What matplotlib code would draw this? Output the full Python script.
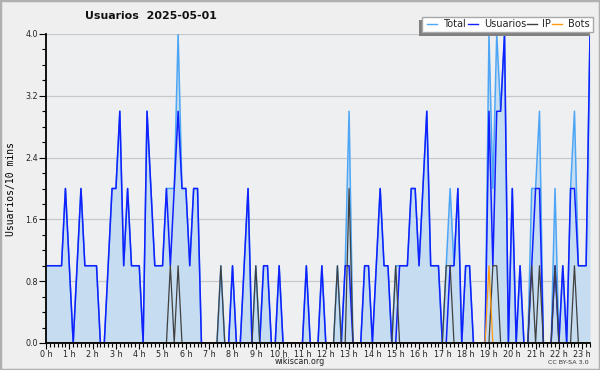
import numpy as np
import matplotlib.pyplot as plt
from matplotlib.patches import Rectangle
from matplotlib.lines import Line2D
from matplotlib.ticker import MultipleLocator, FixedLocator

TITLE = "Usuarios  2025-05-01"
YLABEL = "Usuarios/10 mins"

# one value per 10 minutes, 00:00 .. 23:20 (12 values = 2 hours per row)
usuarios = [
    1, 1, 1, 1, 1, 2, 1, 0, 1, 2, 1, 1,
    1, 1, 0, 0, 1, 2, 2, 3, 1, 2, 1, 1,
    1, 0, 3, 2, 1, 1, 1, 2, 1, 2, 3, 2,
    2, 1, 2, 2, 0, 0, 0, 0, 0, 0, 0, 0,
    1, 0, 0, 1, 2, 0, 0, 0, 1, 1, 0, 0,
    1, 0, 0, 0, 0, 0, 0, 1, 0, 0, 0, 1,
    0, 0, 0, 0, 0, 1, 1, 0, 0, 0, 1, 1,
    0, 1, 2, 1, 1, 0, 0, 1, 1, 1, 2, 2,
    1, 2, 3, 1, 1, 1, 0, 0, 1, 1, 2, 0,
    1, 1, 0, 0, 0, 0, 3, 1, 3, 3, 4, 0,
    2, 0, 1, 0, 0, 1, 2, 2, 0, 0, 0, 1,
    0, 1, 0, 2, 2, 1, 1, 1, 4,
]
ip = [
    0, 0, 0, 0, 0, 0, 0, 0, 0, 0, 0, 0,
    0, 0, 0, 0, 0, 0, 0, 0, 0, 0, 0, 0,
    0, 0, 0, 0, 0, 0, 0, 0, 1, 0, 1, 0,
    0, 0, 0, 0, 0, 0, 0, 0, 0, 1, 0, 0,
    0, 0, 0, 0, 0, 0, 1, 0, 0, 0, 0, 0,
    0, 0, 0, 0, 0, 0, 0, 0, 0, 0, 0, 0,
    0, 0, 0, 1, 0, 0, 2, 0, 0, 0, 0, 0,
    0, 0, 0, 0, 0, 0, 1, 0, 0, 0, 0, 0,
    0, 0, 0, 0, 0, 0, 0, 1, 1, 0, 0, 0,
    0, 0, 0, 0, 0, 0, 0, 1, 1, 0, 0, 0,
    0, 0, 0, 0, 0, 1, 0, 1, 0, 0, 0, 1,
    0, 0, 0, 0, 1, 0, 0, 0, 0,
]
bots = [
    0, 0, 0, 0, 0, 0, 0, 0, 0, 0, 0, 0,
    0, 0, 0, 0, 0, 0, 0, 0, 0, 0, 0, 0,
    0, 0, 0, 0, 0, 0, 0, 0, 0, 0, 0, 0,
    0, 0, 0, 0, 0, 0, 0, 0, 0, 0, 0, 0,
    0, 0, 0, 0, 0, 0, 0, 0, 0, 0, 0, 0,
    0, 0, 0, 0, 0, 0, 0, 0, 0, 0, 0, 0,
    0, 0, 0, 0, 0, 0, 0, 0, 0, 0, 0, 0,
    0, 0, 0, 0, 0, 0, 0, 0, 0, 0, 0, 0,
    0, 0, 0, 0, 0, 0, 0, 0, 0, 0, 0, 0,
    0, 0, 0, 0, 0, 0, 1, 0, 0, 0, 0, 0,
    0, 0, 0, 0, 0, 0, 0, 0, 0, 0, 0, 0,
    0, 0, 0, 0, 0, 0, 0, 0, 0,
]
total = [
    1, 1, 1, 1, 1, 2, 1, 0, 1, 2, 1, 1,
    1, 1, 0, 0, 1, 2, 2, 3, 1, 2, 1, 1,
    1, 0, 3, 2, 1, 1, 1, 2, 2, 2, 4, 2,
    2, 1, 2, 2, 0, 0, 0, 0, 0, 1, 0, 0,
    1, 0, 0, 1, 2, 0, 1, 0, 1, 1, 0, 0,
    1, 0, 0, 0, 0, 0, 0, 1, 0, 0, 0, 1,
    0, 0, 0, 1, 0, 1, 3, 0, 0, 0, 1, 1,
    0, 1, 2, 1, 1, 0, 1, 1, 1, 1, 2, 2,
    1, 2, 3, 1, 1, 1, 0, 1, 2, 1, 2, 0,
    1, 1, 0, 0, 0, 0, 4, 2, 4, 3, 4, 0,
    2, 0, 1, 0, 0, 2, 2, 3, 0, 0, 0, 2,
    0, 1, 0, 2, 3, 1, 1, 1, 4,
]
hours = list(range(24))
hour_labels = [f"{h} h" for h in hours]

t = np.arange(len(total)) / 6.0   # hours

C_FILL = "#c6ddf1"
C_TOTAL = "#4da6f5"
C_USR = "#1020ff"
C_IP = "#404040"
C_BOTS = "#ff9a10"

fig = plt.figure(figsize=(6, 3.7), dpi=100)
fig.patch.set_facecolor("#efefef")
fig.patches.append(Rectangle((0, 0), 1, 1, transform=fig.transFigure, fill=False,
                             edgecolor="#b0b0b0", lw=2.5))

ax = fig.add_axes([46 / 600, 1 - 343 / 370, 544 / 600, 309 / 370])
ax.set_facecolor("#eeeff1")

ax.fill_between(t, total, 0, color=C_FILL, lw=0, zorder=1)
ax.plot(t, total, color=C_TOTAL, lw=1.1, zorder=2)
ax.plot(t, usuarios, color=C_USR, lw=1.1, zorder=3)
ax.plot(t, ip, color=C_IP, lw=0.9, zorder=4)
ax.plot(t, bots, color=C_BOTS, lw=0.9, zorder=5)

ax.set_xlim(0, t[-1])
ax.set_ylim(0, 4.0)
ax.yaxis.set_major_locator(MultipleLocator(0.8))
ax.yaxis.set_minor_locator(MultipleLocator(0.2))
ax.set_yticklabels([f"{v:.1f}" for v in ax.get_yticks()])
ax.xaxis.set_major_locator(FixedLocator(hours))
ax.set_xticklabels(hour_labels)
ax.xaxis.set_minor_locator(MultipleLocator(1 / 6))
ax.grid(axis="y", color="#c8c8c8", lw=0.9, zorder=0)
ax.set_axisbelow(True)

for s in ["top", "right"]:
    ax.spines[s].set_visible(False)
for s in ["left", "bottom"]:
    ax.spines[s].set_linewidth(1.3)
    ax.spines[s].set_zorder(6)

ax.tick_params(which="major", length=5, width=0.8, labelsize=5.8, pad=1,
               labelcolor="#222222")
ax.tick_params(which="minor", length=3, width=0.8)
ax.tick_params(axis="x", which="major", length=4)

ax.set_ylabel(YLABEL, family="DejaVu Sans Mono", fontsize=7)
ax.yaxis.set_label_coords(-0.055, 0.5)

fig.text(85 / 600, 1 - 16 / 370, TITLE, fontsize=7.9, fontweight="bold",
         ha="left", va="center", color="#111111")
fig.text(300 / 600, 1 - 362 / 370, "wikiscan.org", fontsize=5.8, ha="center",
         va="center", color="#222222")
fig.text(589 / 600, 1 - 362 / 370, "CC BY-SA 3.0", fontsize=4.6, ha="right",
         va="center", color="#333333")

# legend box with shadow (drawn by hand)
def fx(px):
    return px / 600


def fy(py):
    return 1 - py / 370


fig.patches.append(Rectangle((fx(419), fy(36)), fx(590) - fx(419), fy(20) - fy(36),
                             transform=fig.transFigure, facecolor="#808080",
                             edgecolor="none", zorder=10))
fig.patches.append(Rectangle((fx(422), fy(31.5)), fx(593) - fx(422), fy(17) - fy(31.5),
                             transform=fig.transFigure, facecolor="white",
                             edgecolor="#a8a8a8", lw=1, zorder=11))
entries = [("Total", C_TOTAL, 427, 443), ("Usuarios", C_USR, 468, 484),
           ("IP", C_IP, 527, 542), ("Bots", C_BOTS, 552, 568)]
for name, col, lx, tx in entries:
    fig.lines.append(Line2D([fx(lx), fx(lx + 10)], [fy(24.3), fy(24.3)],
                            transform=fig.transFigure, color=col, lw=1, zorder=12))
    fig.text(fx(tx), fy(24.3), name, fontsize=7, ha="left", va="center",
             color="#222222", zorder=12)

fig.savefig("out.png", dpi=100, facecolor=fig.get_facecolor())
